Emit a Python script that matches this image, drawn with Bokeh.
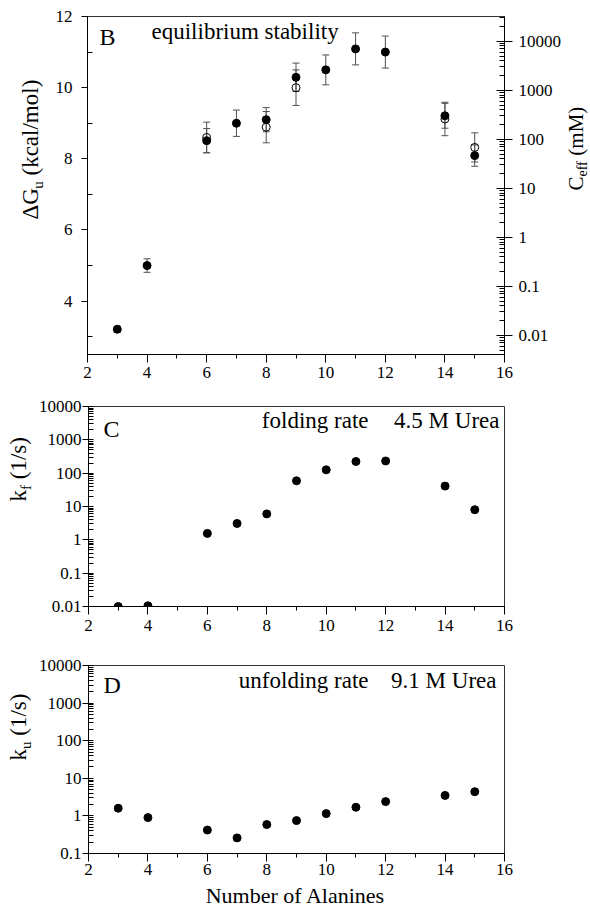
import math
from bokeh.plotting import figure
from bokeh.models import (Range1d, LogAxis, LogScale, FixedTicker, CustomJSTickFormatter,
                          Label, Whisker, TeeHead, ColumnDataSource)
from bokeh.layouts import column, row
from bokeh.embed import file_html
from bokeh.resources import INLINE

# ---------------- data ----------------
n_ala = [3, 4, 6, 7, 8, 9, 10, 11, 12, 14, 15]
dG_filled = [3.21, 5.0, 8.51, 9.0, 9.1, 10.29, 10.5, 11.09, 11.0, 9.21, 8.09]
dG_filled_err = [0.08, 0.19, 0.34, 0.37, 0.34, 0.40, 0.42, 0.45, 0.45, 0.35, 0.30]
n_ala_open = [6, 8, 9, 14, 15]
dG_open = [8.6, 8.89, 10.0, 9.12, 8.32]
dG_open_err = [0.43, 0.44, 0.50, 0.47, 0.41]
k_fold = [0.010, 0.0105, 1.56, 3.1, 6.0, 59, 126, 224, 232, 41, 8.0]
k_unfold = [1.6, 0.9, 0.42, 0.26, 0.59, 0.75, 1.15, 1.7, 2.4, 3.5, 4.4]

x_ticks = [2, 4, 6, 8, 10, 12, 14, 16]
x_minor = [3, 5, 7, 9, 11, 13, 15]
dG_ticks = [4, 6, 8, 10, 12]
dG_minor = [3, 5, 7, 9, 11]
ceff_ticks = [0.01, 0.1, 1, 10, 100, 1000, 10000]
kf_ticks = [0.01, 0.1, 1, 10, 100, 1000, 10000]
ku_ticks = [0.1, 1, 10, 100, 1000, 10000]

FONT = "Liberation Serif"
ROT = math.pi / 2
ERR_COLOR = "#505050"
MID = 0.35  # offset (em) from alphabetic baseline to the 'middle' anchor


def log_minor(lo, hi):
    out = []
    for e in range(-4, 6):
        for m in range(2, 10):
            v = m * 10.0 ** e
            if lo <= v <= hi:
                out.append(v)
    return out


fmt_js = "return String(tick);"


def style_axis(ax, mj_in, mj_out, mn_in, mn_out, standoff):
    ax.axis_line_color = "black"
    ax.axis_line_width = 1
    ax.major_tick_line_color = "black"
    ax.minor_tick_line_color = "black"
    ax.major_tick_in = mj_in
    ax.major_tick_out = mj_out
    ax.minor_tick_in = mn_in
    ax.minor_tick_out = mn_out
    ax.major_label_text_font = FONT
    ax.major_label_text_font_size = "17px"
    ax.major_label_text_color = "black"
    ax.major_label_standoff = standoff
    ax.axis_label = None


def add_text(p, frame, px, py, text, size, align="left", angle=0.0):
    # (px, py): start/anchor of the text baseline, in page pixels
    # frame = (left, bottom) of the drawing frame, in page pixels
    fl, fb = frame
    if angle == 0.0:
        py = py - MID * size
    else:
        px = px - MID * size
    p.add_layout(Label(x=px - fl, y=fb - py, x_units="screen", y_units="screen", text=text,
                       text_font=FONT, text_font_size=f"{size}px", text_align=align,
                       text_baseline="middle", angle=angle, text_color="black"))


def base_fig(width, height, bl, br, bt, bb, y_range, y_type="linear"):
    p = figure(width=width, height=height, x_range=Range1d(2, 16), y_range=y_range,
               y_axis_type=y_type, output_backend="svg", toolbar_location=None, title=None,
               min_border_left=bl, min_border_right=br, min_border_top=bt, min_border_bottom=bb)
    p.grid.visible = False
    p.outline_line_color = "#333333"
    p.outline_line_width = 1
    p.background_fill_color = "white"
    p.border_fill_color = "white"
    p.xaxis[0].ticker = FixedTicker(ticks=x_ticks, minor_ticks=x_minor)
    return p


def strip(width, height):
    s = figure(width=width, height=height, x_range=Range1d(0, width), y_range=Range1d(0, height),
               x_axis_location=None, y_axis_location=None, toolbar_location=None, title=None,
               min_border=0, output_backend="svg")
    s.grid.visible = False
    s.xgrid.visible = False
    s.ygrid.visible = False
    s.outline_line_color = None
    s.background_fill_color = "white"
    s.border_fill_color = "white"
    return s


# ---------------- panel B ----------------
pB = base_fig(512, 392, 35, 58, 16, 38, Range1d(2.5, 12))
frameB = (87, 354)
style_axis(pB.xaxis[0], 0, 8, 0, 4, 4)
ya = pB.yaxis[0]
ya.ticker = FixedTicker(ticks=dG_ticks, minor_ticks=dG_minor)
style_axis(ya, 0, 6, 5, 0, 9)

c_lo, c_hi = 10 ** -2.392, 10 ** 4.505
pB.extra_y_ranges = {"ceff": Range1d(c_lo, c_hi)}
pB.extra_y_scales = {"ceff": LogScale()}
rax = LogAxis(y_range_name="ceff",
              ticker=FixedTicker(ticks=ceff_ticks, minor_ticks=log_minor(c_lo, c_hi)),
              formatter=CustomJSTickFormatter(code=fmt_js))
style_axis(rax, 8, 8, 5, 0, 6)
pB.add_layout(rax, "right")

src_open = ColumnDataSource(dict(x=n_ala_open, y=dG_open,
                                 lo=[v - e for v, e in zip(dG_open, dG_open_err)],
                                 hi=[v + e for v, e in zip(dG_open, dG_open_err)]))
src_fill = ColumnDataSource(dict(x=n_ala, y=dG_filled,
                                 lo=[v - e for v, e in zip(dG_filled, dG_filled_err)],
                                 hi=[v + e for v, e in zip(dG_filled, dG_filled_err)]))
for src in (src_open, src_fill):
    pB.add_layout(Whisker(source=src, base="x", lower="lo", upper="hi",
                          line_color=ERR_COLOR, line_width=1,
                          lower_head=TeeHead(size=7, line_color=ERR_COLOR, line_width=1),
                          upper_head=TeeHead(size=7, line_color=ERR_COLOR, line_width=1)))
pB.scatter(x="x", y="y", source=src_open, size=8, marker="circle",
           fill_color="white", fill_alpha=0.0, line_color="black", line_width=1)
pB.scatter(x="x", y="y", source=src_fill, size=8, marker="circle",
           fill_color="black", line_color="black")

add_text(pB, frameB, 99, 45, "B", 24)
add_text(pB, frameB, 151, 39, "equilibrium stability", 23)

sLB = strip(52, 392)
fLB = (0, 392)
add_text(sLB, fLB, 38, 257, "ΔG", 23, angle=ROT)
add_text(sLB, fLB, 43, 226.3, "u", 15, angle=ROT)
add_text(sLB, fLB, 38, 213, "(kcal/mol)", 23, angle=ROT)

sRB = strip(26, 392)
fRB = (564, 392)
add_text(sRB, fRB, 583, 228, "C", 21, angle=ROT)
add_text(sRB, fRB, 587, 214, "eff", 14, angle=ROT)
add_text(sRB, fRB, 583, 193.2, "(mM)", 21, angle=ROT)

# ---------------- panel C ----------------
pC = base_fig(555, 250, 50, 86, 14, 36, Range1d(0.01, 10000), "log")
frameC = (85, 606)
style_axis(pC.xaxis[0], 0, 8, 0, 4, 5)
yc = pC.yaxis[0]
yc.ticker = FixedTicker(ticks=kf_ticks, minor_ticks=log_minor(0.01, 10000))
yc.formatter = CustomJSTickFormatter(code=fmt_js)
style_axis(yc, 5, 6, 5, 0, 1)
pC.scatter(x=n_ala, y=k_fold, size=8, marker="circle", fill_color="black", line_color="black")
add_text(pC, frameC, 100, 437, "C", 24)
add_text(pC, frameC, 365, 428, "folding rate", 23, align="right")
add_text(pC, frameC, 496, 428, "4.5 M Urea", 23, align="right")

sLC = strip(35, 250)
fLC = (0, 642)
add_text(sLC, fLC, 26, 537, "k", 23, angle=ROT)
add_text(sLC, fLC, 31, 525.5, "f", 15, angle=ROT)
add_text(sLC, fLC, 26, 514.7, "(1/s)", 23, angle=ROT)

# ---------------- panel D ----------------
pD = base_fig(555, 241, 50, 86, 23, 30, Range1d(0.1, 10000), "log")
frameD = (85, 853)
style_axis(pD.xaxis[0], 0, 8, 0, 4, 2)
yd = pD.yaxis[0]
yd.ticker = FixedTicker(ticks=ku_ticks, minor_ticks=log_minor(0.1, 10000))
yd.formatter = CustomJSTickFormatter(code=fmt_js)
style_axis(yd, 5, 6, 5, 0, 1)
pD.scatter(x=n_ala, y=k_unfold, size=8, marker="circle", fill_color="black", line_color="black")
add_text(pD, frameD, 100, 693, "D", 24)
add_text(pD, frameD, 365, 688, "unfolding rate", 23, align="right")
add_text(pD, frameD, 493, 688, "9.1 M Urea", 23, align="right")

sLD = strip(35, 241)
fLD = (0, 883)
add_text(sLD, fLD, 26, 790, "k", 23, angle=ROT)
add_text(sLD, fLD, 31, 778.5, "u", 15, angle=ROT)
add_text(sLD, fLD, 26, 765.2, "(1/s)", 23, angle=ROT)

sX = strip(590, 25)
fX = (0, 908)
add_text(sX, fX, 295, 903, "Number of Alanines", 22, align="center")

layout = column(row(sLB, pB, sRB), row(sLC, pC), row(sLD, pD), sX)
open("out.html", "w").write(file_html(layout, INLINE))
